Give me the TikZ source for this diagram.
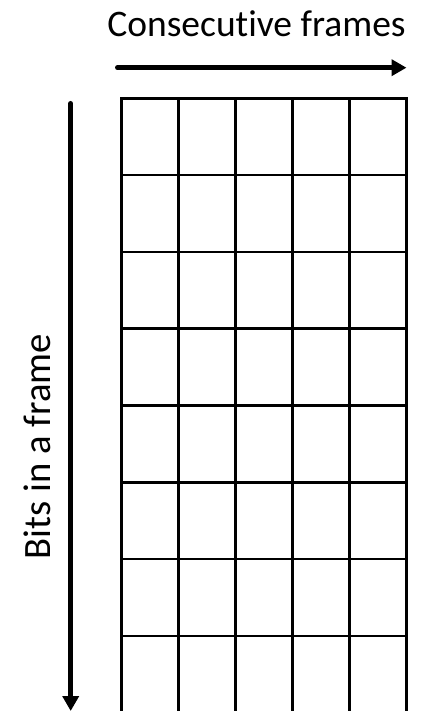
\documentclass[tikz,border=0pt]{standalone}
\usepackage{fontspec}
\setmainfont[Ligatures=NoCommon]{Carlito}
\usetikzlibrary{arrows.meta}
\begin{document}
\begin{tikzpicture}[x=1pt,y=-1pt,
  gridline/.style={line width=2.6pt, line cap=rect},
  bigarrow/.style={line width=5pt, line cap=round, -{Triangle[length=15pt,width=16pt]}},
  label/.style={font=\fontsize{37.5}{42}\selectfont, inner sep=0pt, anchor=base},
  sidelabel/.style={font=\fontsize{38.7}{42}\selectfont, inner sep=0pt, anchor=base, rotate=90}]
\useasboundingbox (0,0) rectangle (434,711);
\begin{scope}
\clip (0,0) rectangle (434,711);
% grid
\foreach \i in {0,...,5} {
  \draw[gridline] ({121.7+57*\i},98.3) -- ({121.7+57*\i},712.7);
}
\foreach \j in {0,...,8} {
  \draw[gridline] (121.7,{98.3+76.8*\j}) -- (406.7,{98.3+76.8*\j});
}
% arrows
\coordinate (hs) at (117.5,67.7);
\coordinate (he) at (406.5,67.7);
\draw[bigarrow] (hs) -- (he);
\coordinate (vs) at (70.7,103.5);
\coordinate (ve) at (70.7,711);
\draw[bigarrow] (vs) -- (ve);
\end{scope}
% labels
\node[label] (top) at (256.5,37) {Consecutive frames};
\node[sidelabel] (side) at (50,446.5) {Bits in a frame};
\end{tikzpicture}
\end{document}
